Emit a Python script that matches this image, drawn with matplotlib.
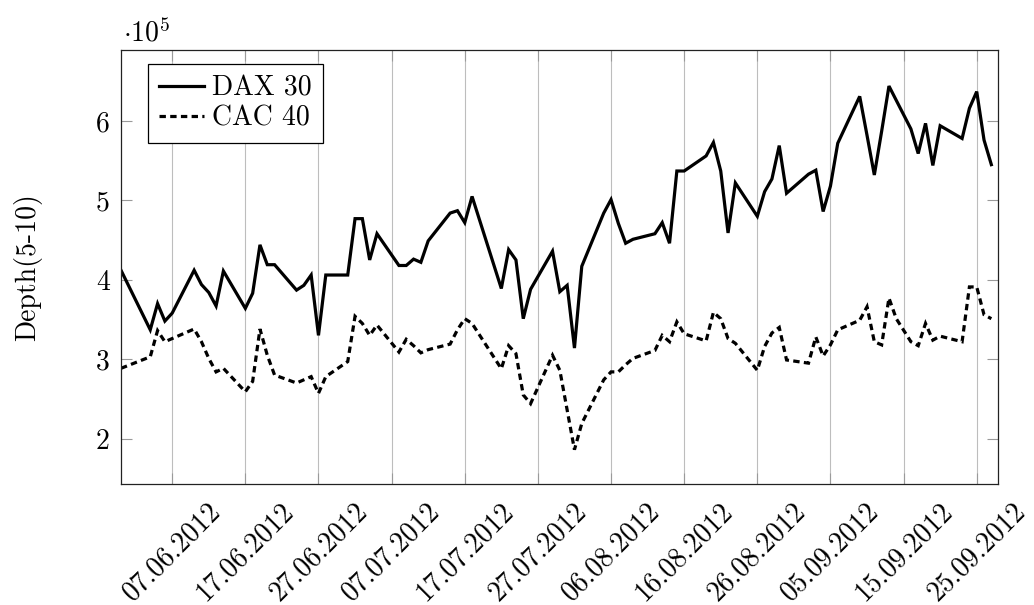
import matplotlib
matplotlib.use('Agg')
import matplotlib.pyplot as plt
import matplotlib.dates as mdates

plt.rcParams['font.family'] = ['cmr10']
plt.rcParams['mathtext.fontset'] = 'cm'
plt.rcParams['axes.unicode_minus'] = False
plt.rcParams['axes.formatter.use_mathtext'] = True

dates = ['2012-05-31', '2012-06-04', '2012-06-05', '2012-06-06', '2012-06-07',
         '2012-06-10', '2012-06-11', '2012-06-12', '2012-06-13', '2012-06-14',
         '2012-06-17', '2012-06-18', '2012-06-19', '2012-06-20', '2012-06-21',
         '2012-06-24', '2012-06-25', '2012-06-26', '2012-06-27', '2012-06-28',
         '2012-07-01', '2012-07-02', '2012-07-03', '2012-07-04', '2012-07-05',
         '2012-07-08', '2012-07-09', '2012-07-10', '2012-07-11', '2012-07-12',
         '2012-07-15', '2012-07-16', '2012-07-17', '2012-07-18',
         '2012-07-22', '2012-07-23', '2012-07-24', '2012-07-25', '2012-07-26',
         '2012-07-29', '2012-07-30', '2012-07-31', '2012-08-01', '2012-08-02',
         '2012-08-05', '2012-08-06', '2012-08-07', '2012-08-08', '2012-08-09',
         '2012-08-12', '2012-08-13', '2012-08-14', '2012-08-15', '2012-08-16',
         '2012-08-19', '2012-08-20', '2012-08-21', '2012-08-22', '2012-08-23',
         '2012-08-26', '2012-08-27', '2012-08-28', '2012-08-29', '2012-08-30',
         '2012-09-02', '2012-09-03', '2012-09-04', '2012-09-05', '2012-09-06',
         '2012-09-09', '2012-09-10', '2012-09-11', '2012-09-12', '2012-09-13',
         '2012-09-14', '2012-09-16', '2012-09-17', '2012-09-18', '2012-09-19',
         '2012-09-20', '2012-09-23', '2012-09-24', '2012-09-25', '2012-09-26',
         '2012-09-27']

# Depth(5-10) in units of 10^5
dax_30 = [4.12, 3.37, 3.70, 3.48, 3.58,
          4.12, 3.94, 3.84, 3.67, 4.11,
          3.64, 3.83, 4.44, 4.19, 4.19,
          3.87, 3.93, 4.06, 3.30, 4.06,
          4.06, 4.77, 4.77, 4.25, 4.58,
          4.18, 4.18, 4.26, 4.22, 4.49,
          4.84, 4.87, 4.72, 5.05,
          3.89, 4.38, 4.25, 3.51, 3.88,
          4.36, 3.85, 3.93, 3.14, 4.17,
          4.84, 5.01, 4.71, 4.46, 4.51,
          4.58, 4.72, 4.46, 5.37, 5.37,
          5.56, 5.73, 5.37, 4.59, 5.22,
          4.80, 5.11, 5.27, 5.69, 5.09,
          5.33, 5.38, 4.86, 5.18, 5.72,
          6.31, 5.82, 5.32, 5.87, 6.44,
          6.26, 5.90, 5.59, 5.97, 5.44,
          5.94, 5.78, 6.16, 6.37, 5.76,
          5.45]

cac_40 = [2.885, 3.03, 3.36, 3.22, 3.26,
          3.38, 3.22, 3.01, 2.84, 2.885,
          2.59, 2.72, 3.38, 3.05, 2.80,
          2.70, 2.74, 2.78, 2.57, 2.78,
          2.97, 3.54, 3.45, 3.30, 3.43,
          3.09, 3.25, 3.17, 3.08, 3.12,
          3.19, 3.37, 3.51, 3.45,
          2.88, 3.17, 3.07, 2.55, 2.44,
          3.05, 2.86, 2.36, 1.86, 2.19,
          2.74, 2.84, 2.84, 2.93, 3.01,
          3.11, 3.30, 3.22, 3.47, 3.32,
          3.23, 3.59, 3.51, 3.26, 3.20,
          2.86, 3.16, 3.33, 3.40, 2.99,
          2.95, 3.28, 3.04, 3.18, 3.37,
          3.49, 3.66, 3.22, 3.18, 3.77,
          3.51, 3.22, 3.17, 3.45, 3.24,
          3.29, 3.22, 3.91, 3.91, 3.56,
          3.51]

tick_dates = ['2012-06-07', '2012-06-17', '2012-06-27', '2012-07-07',
              '2012-07-17', '2012-07-27', '2012-08-06', '2012-08-16',
              '2012-08-26', '2012-09-05', '2012-09-15', '2012-09-25']
tick_labels = ['07.06.2012', '17.06.2012', '27.06.2012', '07.07.2012',
               '17.07.2012', '27.07.2012', '06.08.2012', '16.08.2012',
               '26.08.2012', '05.09.2012', '15.09.2012', '25.09.2012']
y_ticks = [2, 3, 4, 5, 6]

W, H = 1034, 605
fig = plt.figure(figsize=(W / 100, H / 100), dpi=100)
L, R, T, B = 121, 998.3, 50, 484
ax = fig.add_axes([L / W, 1 - B / H, (R - L) / W, (B - T) / H])

x = mdates.datestr2num(dates)
ax.plot(x, dax_30, color='black', lw=2.3, solid_joinstyle='miter', label='DAX 30')
ax.plot(x, cac_40, color='black', lw=2.3, ls=(0, (2.0, 1.35)),
        dash_joinstyle='miter', label='CAC 40')

xt = mdates.datestr2num(tick_dates)
ax.set_xticks(xt)
ax.set_xticklabels(tick_labels, rotation=45, ha='center', va='top')
ax.set_yticks(y_ticks)
ax.set_yticklabels([str(v) for v in y_ticks])
ax.set_xlim(mdates.datestr2num('2012-05-31'), mdates.datestr2num('2012-09-27') + 0.95)
ax.set_ylim(1.428, 6.894)

ax.grid(axis='x', color='#bdbdbd', lw=0.8)
ax.tick_params(axis='both', direction='in', length=8, width=0.8, color='#9a9a9a',
               labelsize=20, top=True, right=True)
ax.tick_params(axis='x', pad=10)
ax.tick_params(axis='y', pad=8)
for s in ax.spines.values():
    s.set_linewidth(0.9)
    s.set_color('#222222')

ax.set_ylabel('Depth(5-10)', fontsize=20)
ax.yaxis.set_label_coords((42 - L) / (R - L), 0.5)

fig.text(123 / W, 1 - 41 / H, r'$\cdot10^{5}$', fontsize=20, ha='left', va='baseline')

leg = ax.legend(loc='upper left', bbox_to_anchor=((148.3 - L) / (R - L), 1 - (64 - T) / (B - T)),
                borderaxespad=0, fancybox=False, framealpha=1, edgecolor='black',
                fontsize=20, handlelength=1.6, handletextpad=0.3, borderpad=0.4,
                labelspacing=0.15)
leg.get_frame().set_linewidth(0.9)

fig.savefig('out.png', dpi=100)
